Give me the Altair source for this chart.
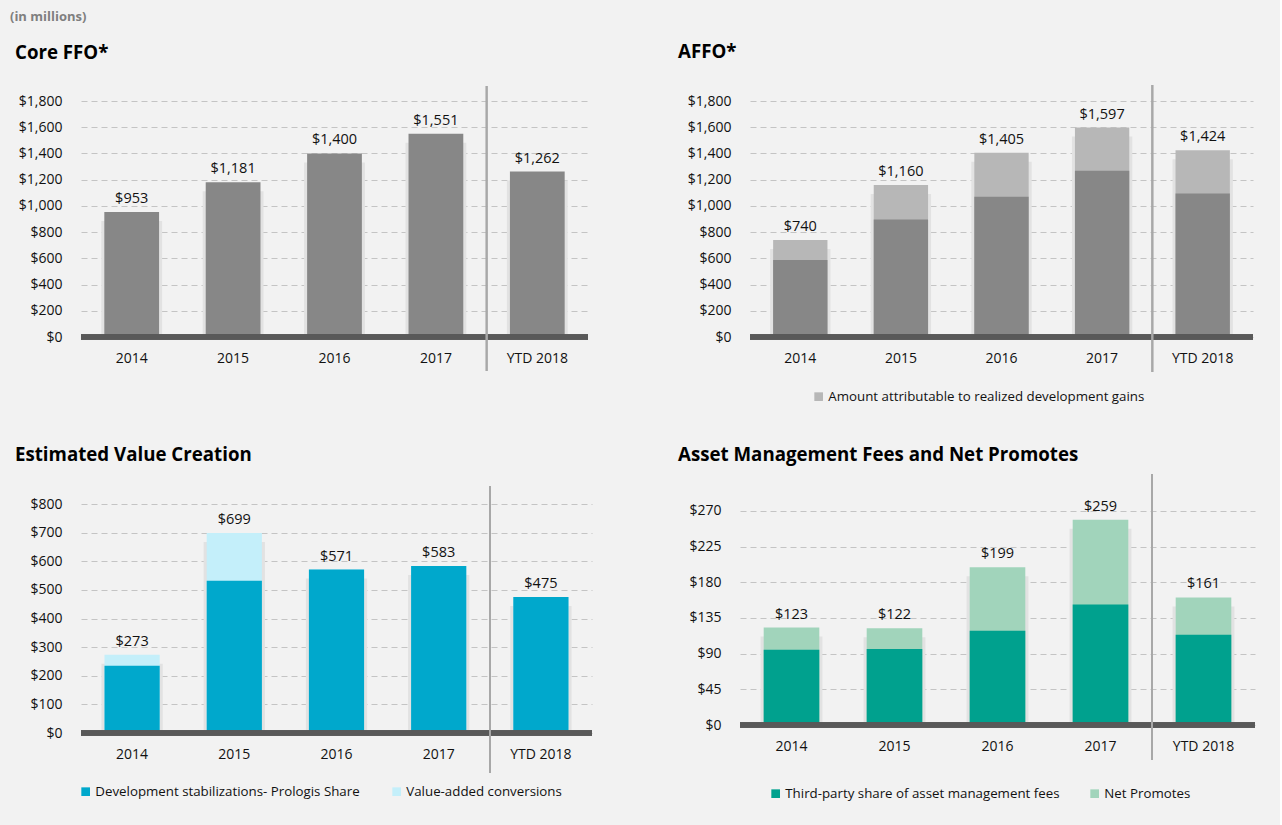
import altair as alt
import pandas as pd

FONT = "Open Sans"
BG = "#f2f2f2"

cats = ["2014", "2015", "2016", "2017", "YTD 2018"]

core_ffo = [953, 1181, 1400, 1551, 1262]

affo_total = [740, 1160, 1405, 1597, 1424]
affo_base = [588, 897, 1070, 1268, 1095]

vc_total = [273, 699, 571, 583, 475]
vc_dev = [235, 532, 571, 583, 475]

am_total = [123, 122, 199, 259, 161]
am_fees = [95, 96, 119, 152, 114]

ffo_ticks = list(range(0, 1801, 200))
vc_ticks = list(range(0, 801, 100))
am_ticks = list(range(0, 271, 45))

LEG_AFFO = ["Core", "Amount attributable to realized development gains"]
LEG_VC = ["Development stabilizations- Prologis Share", "Value-added conversions"]
LEG_AM = ["Third-party share of asset management fees", "Net Promotes"]


def xaxis():
    return alt.X("cat:N", sort=cats, scale=alt.Scale(paddingInner=0, paddingOuter=0),
                 axis=alt.Axis(title=None, labelAngle=0, domain=False, ticks=False,
                               labelPadding=14, labelFontSize=14, labelFont=FONT,
                               labelColor="#111111", grid=False))


def yaxis(field, dom, ticks, ext):
    return alt.Y(f"{field}:Q", scale=alt.Scale(domain=dom, nice=False, zero=True),
                 axis=alt.Axis(title=None, values=ticks, format="$,.0f", domain=False,
                               ticks=False, grid=True, gridDash=[6, 4], gridColor="#c4c4c4",
                               gridWidth=1, labelPadding=19, labelFontSize=14,
                               labelFont=FONT, labelColor="#111111",
                               minExtent=ext, maxExtent=ext))


def panel(df, title, w, h, dom, ticks, ext, tdx, toff, sep_top, sep_bot,
          top_field, base_field=None, colors=None, bw=0.54):
    layers = []
    shadow = alt.Chart(df).mark_bar(color="#e2e2e2", width=alt.RelativeBandSize(bw + 0.06),
                                    yOffset=9).encode(
        x=xaxis(), y=yaxis(top_field, dom, ticks, ext), y2=alt.datum(0))
    layers.append(shadow)
    if base_field is None:
        main = alt.Chart(df).mark_bar(color=colors, width=alt.RelativeBandSize(bw)).encode(
            x=xaxis(), y=yaxis(top_field, dom, ticks, ext))
        layers.append(main)
    else:
        dom_c, rng_c, leg = colors
        cscale = alt.Scale(domain=dom_c, range=rng_c)
        top = alt.Chart(df).transform_calculate(s=f"'{dom_c[1]}'").mark_bar(
            width=alt.RelativeBandSize(bw)).encode(
            x=xaxis(), y=yaxis(top_field, dom, ticks, ext),
            color=alt.Color("s:N", scale=cscale, legend=leg))
        base = alt.Chart(df).transform_calculate(s=f"'{dom_c[0]}'").mark_bar(
            width=alt.RelativeBandSize(bw)).encode(
            x=xaxis(), y=yaxis(base_field, dom, ticks, ext),
            color=alt.Color("s:N", scale=cscale, legend=leg))
        layers += [top, base]
    labels = alt.Chart(df).mark_text(baseline="bottom", dy=-6, fontSize=14.5, font=FONT,
                                     color="#111111").encode(
        x=xaxis(), y=yaxis(top_field, dom, ticks, ext),
        text=alt.Text(f"{top_field}:Q", format="$,.0f"))
    layers.append(labels)
    baseline = alt.Chart(df).mark_rule(color="#595959", strokeWidth=5).encode(
        x=alt.value(0), x2=alt.value(w), y=alt.value(h))
    layers.append(baseline)
    sep = alt.Chart(df).mark_rule(color="#a8a8a8", strokeWidth=1.5).encode(
        x=alt.XDatum("YTD 2018", bandPosition=0), y=alt.value(sep_top), y2=alt.value(sep_bot))
    layers.append(sep)
    return alt.layer(*layers).properties(
        width=w, height=h,
        title=alt.TitleParams(title, anchor="start", dx=tdx, offset=toff, fontSize=18.7,
                              fontWeight="bold", font=FONT, color="#000000",
                              baseline="bottom"))


df1 = pd.DataFrame({"cat": cats, "v": core_ffo})
df2 = pd.DataFrame({"cat": cats, "t": affo_total, "b": affo_base})
df3 = pd.DataFrame({"cat": cats, "t": vc_total, "b": vc_dev})
df4 = pd.DataFrame({"cat": cats, "t": am_total, "b": am_fees})


def leg(x, y, values=None, colpad=30):
    kw = dict(orient="none", legendX=x, legendY=y, direction="horizontal", title=None,
              symbolType="square", symbolSize=75, labelFontSize=13.3, labelFont=FONT,
              labelColor="#111111", columnPadding=colpad, symbolStrokeWidth=0, labelOffset=3,
              labelLimit=600)
    if values is not None:
        kw["values"] = values
    return alt.Legend(**kw)


p1 = panel(df1, "Core FFO*", 507, 236, [0, 1800], ffo_ticks, 71, 5, 4, -15, 270,
           "v", colors="#878787")
p2 = panel(df2, "AFFO*", 503, 236, [0, 1800], ffo_ticks, 72, 0, 4, -16, 271,
           "t", "b", (LEG_AFFO, ["#878787", "#b7b7b7"], leg(62, 289, [LEG_AFFO[1]])))
p3 = panel(df3, "Estimated Value Creation", 511, 229, [0, 800], vc_ticks, 71, 5, 2, -18, 269,
           "t", "b", (LEG_VC, ["#00a8cc", "#c4effa"], leg(-2, 281, colpad=30)))
p4 = panel(df4, "Asset Management Fees and Net Promotes", 515, 221, [0, 278.8], am_ticks, 62, 0,
           -10, -30, 256,
           "t", "b", (LEG_AM, ["#00a18e", "#a1d4bb"], leg(29, 283, colpad=28)))

chart = alt.concat(
    p1, p2, p3, p4, columns=2,
    align=alt.RowColLayoutAlign(row="each", column="none"),
    spacing={"row": 42, "column": 83},
).resolve_scale(color="independent").properties(
    title=alt.TitleParams("(in millions)", anchor="start", fontSize=13, fontWeight="bold",
                          font=FONT, color="#7f7f7f", offset=19),
    padding={"left": 10, "top": 10, "right": 22, "bottom": 26},
    background=BG,
).configure_view(stroke=None)

chart.save("out.html", embed_options={"renderer": "svg", "actions": False})
